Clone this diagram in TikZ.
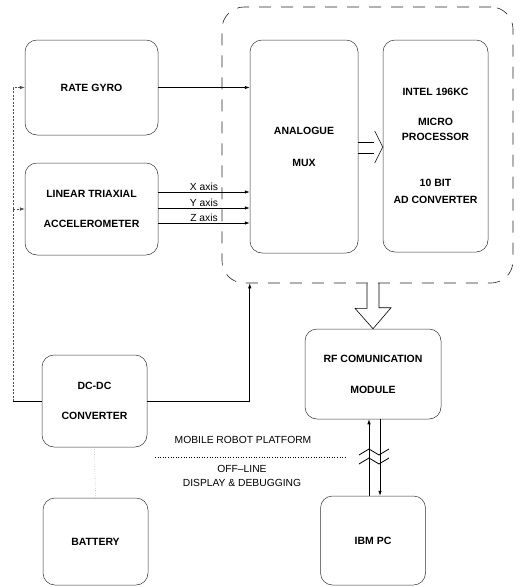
\documentclass[tikz,border=0pt]{standalone}
\usepackage{fontspec}
\setmainfont{Liberation Sans}
\usetikzlibrary{arrows.meta,positioning,calc}

\begin{document}
\begin{tikzpicture}[x=1pt, y=-1pt,
    block/.style={draw=black!80, line width=0.5pt, rounded corners=12pt, align=center, inner sep=0pt, font=\fontsize{10.5}{12}\selectfont\bfseries},
    board/.style={draw=black!85, line width=0.6pt, dash pattern=on 12pt off 10pt, rounded corners=22pt, minimum width=291pt, minimum height=276pt},
    sig/.style={draw=black, line width=0.7pt, -{Latex[length=5pt,width=3.5pt]}},
    feed/.style={draw=black!70, line width=0.5pt, dash pattern=on 2pt off 1.5pt},
    hollow/.style={draw=black, line width=0.6pt},
    lbl/.style={font=\fontsize{10.3}{12}\selectfont, inner sep=1pt}
]
\useasboundingbox (0,0) rectangle (527,587);

\node[board] (board) at (367.5,145) {};
\node[block, minimum width=133pt, minimum height=95pt] (gyro) at (91.5,87.5) {RATE GYRO};
\node[block, minimum width=133pt, minimum height=92pt] (accel) at (91.5,209) {LINEAR TRIAXIAL\\[18pt]ACCELEROMETER};
\node[block, minimum width=108pt, minimum height=213pt] (mux) at (304,146.5) {ANALOGUE\\[20pt]MUX};
\node[block, minimum width=105pt, minimum height=212pt] (cpu) at (435.5,146) {INTEL 196KC\\[18pt]MICRO\\[3pt]PROCESSOR\\[34pt]10 BIT\\[5pt]AD CONVERTER};
\node[block, minimum width=105pt, minimum height=92pt] (dcdc) at (94.5,401) {DC-DC\\[18pt]CONVERTER};
\node[block, minimum width=105pt, minimum height=87pt] (battery) at (95.5,541.5) {BATTERY};
\node[block, minimum width=136pt, minimum height=90pt] (rf) at (373,374) {RF COMUNICATION\\[19pt]MODULE};
\node[block, minimum width=105pt, minimum height=89pt] (ibm) at (373,540.5) {IBM PC};

\node[lbl] (mobile) at (243,440) {MOBILE ROBOT PLATFORM};
\node[lbl, align=center] (offline) at (242,476) {OFF--LINE\\[2pt]DISPLAY \& DEBUGGING};

\draw[sig] (gyro.east) -- (gyro.east -| mux.west);
\foreach \y/\ax in {192/X,208/Y,223/Z}
    \draw[sig] (accel.east |- 0,\y) -- node[lbl, above]{\ax\ axis} (mux.west |- 0,\y);

\coordinate (bus) at (13,401);
\draw[line width=0.5pt] (dcdc.west) -- (bus);
\draw[feed, -{Latex[length=5pt,width=3.5pt]}] (bus) |- (gyro.west);
\draw[feed, -{Latex[length=5pt,width=3.5pt]}] (bus |- accel.west) -- (accel.west);
\draw[sig] (dcdc.east) -| (board.south -| mux.west);
\draw[dotted, black!60] (dcdc.south) -- (battery.north);

\draw[hollow] (mux.east |- 0,142) -- ++(16,0);
\draw[hollow] (mux.east |- 0,153) -- ++(16,0);
\draw[hollow] (cpu.west |- 0,147) ++(-8,-16) -- ++(8,16) -- ++(-8,16);

\draw[hollow] (rf.north |- board.south) ++(-6,0) -- ++(0,25) -- ++(-12,0) -- (rf.north) -- ++(18,-21) -- ++(-12,0) -- ++(0,-25);

\draw[sig] ([xshift=-4pt]ibm.north) -- ([xshift=-4pt]rf.south);
\draw[sig] ([xshift=7pt]rf.south) -- ([xshift=7pt]ibm.north);
\foreach \y in {453,462}
    \draw[line width=0.8pt] (rf.south |- 0,\y) ++(-14,2) -- ++(10,-6) -- ++(10,6) -- ++(10,-6);

\draw[dotted, line width=0.6pt] (155,457) -- (345,457);
\end{tikzpicture}
\end{document}
